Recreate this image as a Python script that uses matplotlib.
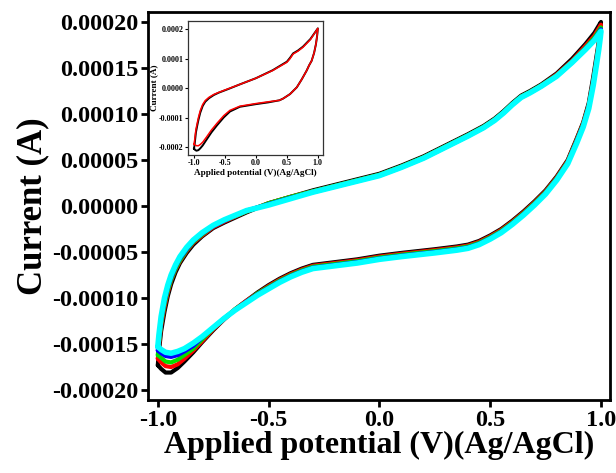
import matplotlib
matplotlib.use("Agg")
import matplotlib.pyplot as plt
import numpy as np
from matplotlib.ticker import FormatStrFormatter, FixedLocator

plt.rcParams['font.family'] = ['Liberation Serif', 'DejaVu Serif']
plt.rcParams['font.weight'] = 'bold'

# ---------------- main data (current in units of 1e-5 A) ----------------
E_up = [-1.0, -0.995, -0.985, -0.97, -0.955, -0.94, -0.92, -0.9, -0.87, -0.84,
        -0.8, -0.75, -0.7, -0.6, -0.5, -0.4, -0.3, -0.2, -0.1, 0.0,
        0.1, 0.2, 0.3, 0.4, 0.47, 0.52, 0.56, 0.6, 0.64, 0.68,
        0.73, 0.8, 0.87, 0.93, 0.97, 1.0]
E_down = [0.997, 0.99, 0.98, 0.965, 0.945, 0.92, 0.89, 0.85, 0.8, 0.75,
          0.7, 0.65, 0.6, 0.55, 0.5, 0.45, 0.4, 0.35, 0.25, 0.1,
          0.0, -0.1, -0.2, -0.3, -0.35, -0.4, -0.45, -0.5, -0.55, -0.6,
          -0.65, -0.7, -0.75, -0.8, -0.84, -0.88, -0.91, -0.94, -0.965, -0.985,
          -1.0]

black_up = [-17.3, -15.8, -13.6, -11.5, -9.8, -8.5, -7.2, -6.2, -5.1, -4.2,
            -3.3, -2.4, -1.8, -0.7, 0.3, 1.0, 1.7, 2.3, 2.9, 3.5,
            4.4, 5.4, 6.6, 7.8, 8.7, 9.5, 10.3, 11.2, 12.0, 12.5,
            13.2, 14.4, 16.0, 17.6, 18.8, 20.0]
black_down = [19.2, 17.8, 16.3, 14.0, 11.2, 9.1, 7.3, 5.0, 3.2, 1.7,
              0.5, -0.6, -1.6, -2.5, -3.2, -3.8, -4.2, -4.4, -4.7, -5.1,
              -5.4, -5.8, -6.1, -6.4, -6.8, -7.3, -7.9, -8.6, -9.4, -10.3,
              -11.2, -12.3, -13.5, -14.8, -15.9, -16.9, -17.6, -18.1, -18.1, -17.7,
              -17.3]
red_up = [-16.6, -15.2, -13.0, -11.0, -9.4, -8.1, -6.9, -6.0, -4.9, -4.0,
          -3.2, -2.3, -1.7, -0.6, 0.3, 1.0, 1.6, 2.2, 2.8, 3.4,
          4.3, 5.3, 6.5, 7.7, 8.6, 9.4, 10.2, 11.1, 11.9, 12.4,
          13.1, 14.3, 15.8, 17.4, 18.5, 19.7]
red_down = [19.0, 17.6, 15.9, 13.6, 11.0, 9.0, 7.2, 4.9, 3.1, 1.6,
            0.4, -0.7, -1.7, -2.6, -3.3, -3.9, -4.3, -4.5, -4.8, -5.2,
            -5.5, -5.9, -6.2, -6.5, -6.9, -7.4, -8.0, -8.7, -9.5, -10.3,
            -11.2, -12.3, -13.4, -14.7, -15.7, -16.6, -17.2, -17.5, -17.4, -17.0,
            -16.6]
green_up = [-16.2, -14.8, -12.7, -10.7, -9.2, -8.0, -6.8, -5.9, -4.8, -3.9,
            -3.1, -2.2, -1.6, -0.6, 0.3, 1.0, 1.6, 2.2, 2.8, 3.4,
            4.3, 5.3, 6.5, 7.7, 8.6, 9.4, 10.2, 11.1, 11.9, 12.4,
            13.1, 14.2, 15.7, 17.2, 18.3, 19.4]
green_down = [18.8, 17.4, 15.7, 13.4, 10.9, 8.9, 7.1, 4.8, 3.0, 1.5,
              0.3, -0.8, -1.8, -2.7, -3.4, -4.0, -4.4, -4.6, -4.9, -5.3,
              -5.6, -6.0, -6.3, -6.6, -7.0, -7.5, -8.1, -8.8, -9.5, -10.4,
              -11.2, -12.2, -13.3, -14.5, -15.5, -16.2, -16.7, -17.0, -16.9, -16.5,
              -16.2]
blue_up = [-15.7, -14.4, -12.4, -10.4, -8.9, -7.8, -6.6, -5.7, -4.7, -3.8,
           -3.0, -2.2, -1.6, -0.5, 0.2, 0.9, 1.5, 2.1, 2.7, 3.3,
           4.2, 5.2, 6.4, 7.6, 8.5, 9.3, 10.1, 11.0, 11.8, 12.3,
           13.0, 14.1, 15.6, 17.1, 18.1, 19.2]
blue_down = [18.5, 17.2, 15.5, 13.2, 10.8, 8.8, 7.0, 4.7, 2.9, 1.4,
             0.2, -0.9, -1.9, -2.8, -3.5, -4.1, -4.5, -4.7, -5.0, -5.4,
             -5.7, -6.1, -6.4, -6.7, -7.1, -7.6, -8.2, -8.9, -9.6, -10.4,
             -11.3, -12.2, -13.2, -14.3, -15.2, -15.8, -16.2, -16.4, -16.3, -16.0,
             -15.7]
cyan_up = [-15.3, -14.0, -12.0, -10.0, -8.6, -7.5, -6.4, -5.5, -4.5, -3.7,
           -2.9, -2.1, -1.5, -0.5, 0.1, 0.8, 1.5, 2.1, 2.7, 3.3,
           4.2, 5.2, 6.4, 7.6, 8.5, 9.3, 10.1, 11.0, 11.8, 12.3,
           13.0, 14.1, 15.6, 17.0, 18.0, 19.0]
cyan_down = [18.3, 17.0, 15.4, 13.1, 10.6, 8.6, 6.8, 4.6, 2.8, 1.3,
             0.1, -1.0, -2.0, -2.9, -3.6, -4.2, -4.6, -4.8, -5.1, -5.5,
             -5.8, -6.2, -6.5, -6.8, -7.2, -7.7, -8.3, -9.0, -9.7, -10.5,
             -11.3, -12.2, -13.2, -14.2, -14.9, -15.5, -15.8, -16.0, -15.9, -15.6,
             -15.3]

cycles = [("black", black_up, black_down, 3.0),
          ("red", red_up, red_down, 3.0),
          ("#00e000", green_up, green_down, 3.0),
          ("blue", blue_up, blue_down, 3.0),
          ("cyan", cyan_up, cyan_down, 4.0)]

# ---------------- inset data (1e-5 A) ----------------
Ei_up = [-1.0, -0.99, -0.97, -0.95, -0.93, -0.9, -0.86, -0.82, -0.76, -0.68, -0.6, -0.45,
         -0.26, 0.0, 0.27, 0.5, 0.55, 0.6, 0.68, 0.76, 0.88, 1.0]
Ei_down = [0.99, 0.97, 0.94, 0.9, 0.86, 0.82, 0.74, 0.66, 0.55, 0.44, 0.38, 0.2, 0.0, -0.26,
           -0.42, -0.52, -0.63, -0.72, -0.8, -0.86, -0.9, -0.93, -0.96, -0.98, -1.0]
ins_black_up = [-20.5, -18.8, -15.0, -12.8, -10.8, -8.3, -6.0, -4.6, -3.4, -2.3, -1.5, -0.3,
                1.3, 3.4, 6.1, 9.0, 10.3, 11.8, 12.8, 14.1, 16.7, 20.3]
ins_black_down = [18.0, 15.0, 12.0, 9.3, 7.8, 6.0, 3.0, 0.3, -2.0, -3.5, -4.1, -4.8, -5.4,
                  -6.3, -7.9, -9.9, -12.6, -15.0, -17.5, -19.4, -20.4, -21.0, -21.2, -21.0, -20.5]
ins_red_up = [-19.0, -17.5, -14.0, -12.0, -10.0, -7.6, -5.5, -4.2, -3.1, -2.1, -1.4, -0.2,
              1.3, 3.4, 6.0, 8.8, 10.0, 11.6, 12.6, 13.9, 16.5, 20.3]
ins_red_down = [18.0, 15.0, 12.0, 9.3, 7.8, 6.0, 3.0, 0.3, -2.0, -3.5, -4.1, -4.6, -5.2,
                -6.1, -7.5, -9.3, -11.9, -14.2, -16.6, -18.3, -19.1, -19.5, -19.5, -19.3, -19.0]

main_xticks = [-1.0, -0.5, 0.0, 0.5, 1.0]
main_yticks = [-0.0002, -0.00015, -0.0001, -0.00005, 0.0, 0.00005, 0.0001, 0.00015, 0.0002]
inset_yticks = [-0.0002, -0.0001, 0.0, 0.0001, 0.0002]

fig = plt.figure(figsize=(6.16, 4.73), dpi=100)
ax = fig.add_axes([0.240, 0.154, 0.750, 0.821])

for color, up, down, lw in cycles:
    E = np.array(E_up + E_down)
    I = np.array(up + down) * 1e-5
    ax.plot(E, I, color=color, lw=lw, solid_capstyle='round', solid_joinstyle='round')

ax.set_xlim(-1.045, 1.04)
ax.set_ylim(-0.000211, 0.000211)
ax.xaxis.set_major_locator(FixedLocator(main_xticks))
ax.yaxis.set_major_locator(FixedLocator(main_yticks))
ax.xaxis.set_major_formatter(FormatStrFormatter('%.1f'))
ax.yaxis.set_major_formatter(FormatStrFormatter('%.5f'))
ax.tick_params(axis='both', direction='out', length=5, width=2, labelsize=17.5, pad=2)
for lab in ax.get_xticklabels() + ax.get_yticklabels():
    lab.set_fontweight('bold')
for sp in ax.spines.values():
    sp.set_linewidth(2)
ax.set_xlabel('Applied potential (V)(Ag/AgCl)', fontsize=23, fontweight='bold', labelpad=0)
ax.set_ylabel('Current (A)', fontsize=25, fontweight='bold', labelpad=2)

# inset
axi = fig.add_axes([0.305, 0.672, 0.219, 0.283])
axi.plot(np.array(Ei_up + Ei_down), np.array(ins_black_up + ins_black_down) * 1e-5,
         color='black', lw=1.4, solid_joinstyle='round')
axi.plot(np.array(Ei_up + Ei_down), np.array(ins_red_up + ins_red_down) * 1e-5,
         color='red', lw=1.1, solid_joinstyle='round')
axi.set_xlim(-1.1, 1.08)
axi.set_ylim(-0.000227, 0.000227)
axi.xaxis.set_major_locator(FixedLocator(main_xticks))
axi.yaxis.set_major_locator(FixedLocator(inset_yticks))
axi.xaxis.set_major_formatter(FormatStrFormatter('%.1f'))
axi.yaxis.set_major_formatter(FormatStrFormatter('%.4f'))
axi.tick_params(axis='both', direction='out', length=2, width=0.8, labelsize=5.8, pad=1)
for lab in axi.get_xticklabels() + axi.get_yticklabels():
    lab.set_fontweight('bold')
for sp in axi.spines.values():
    sp.set_linewidth(0.9)
    sp.set_color('#333333')
axi.set_xlabel('Applied potential (V)(Ag/AgCl)', fontsize=6.6, fontweight='bold', labelpad=1)
axi.set_ylabel('Current (A)', fontsize=6.6, fontweight='bold', labelpad=1)

fig.savefig('out.png', dpi=100)
